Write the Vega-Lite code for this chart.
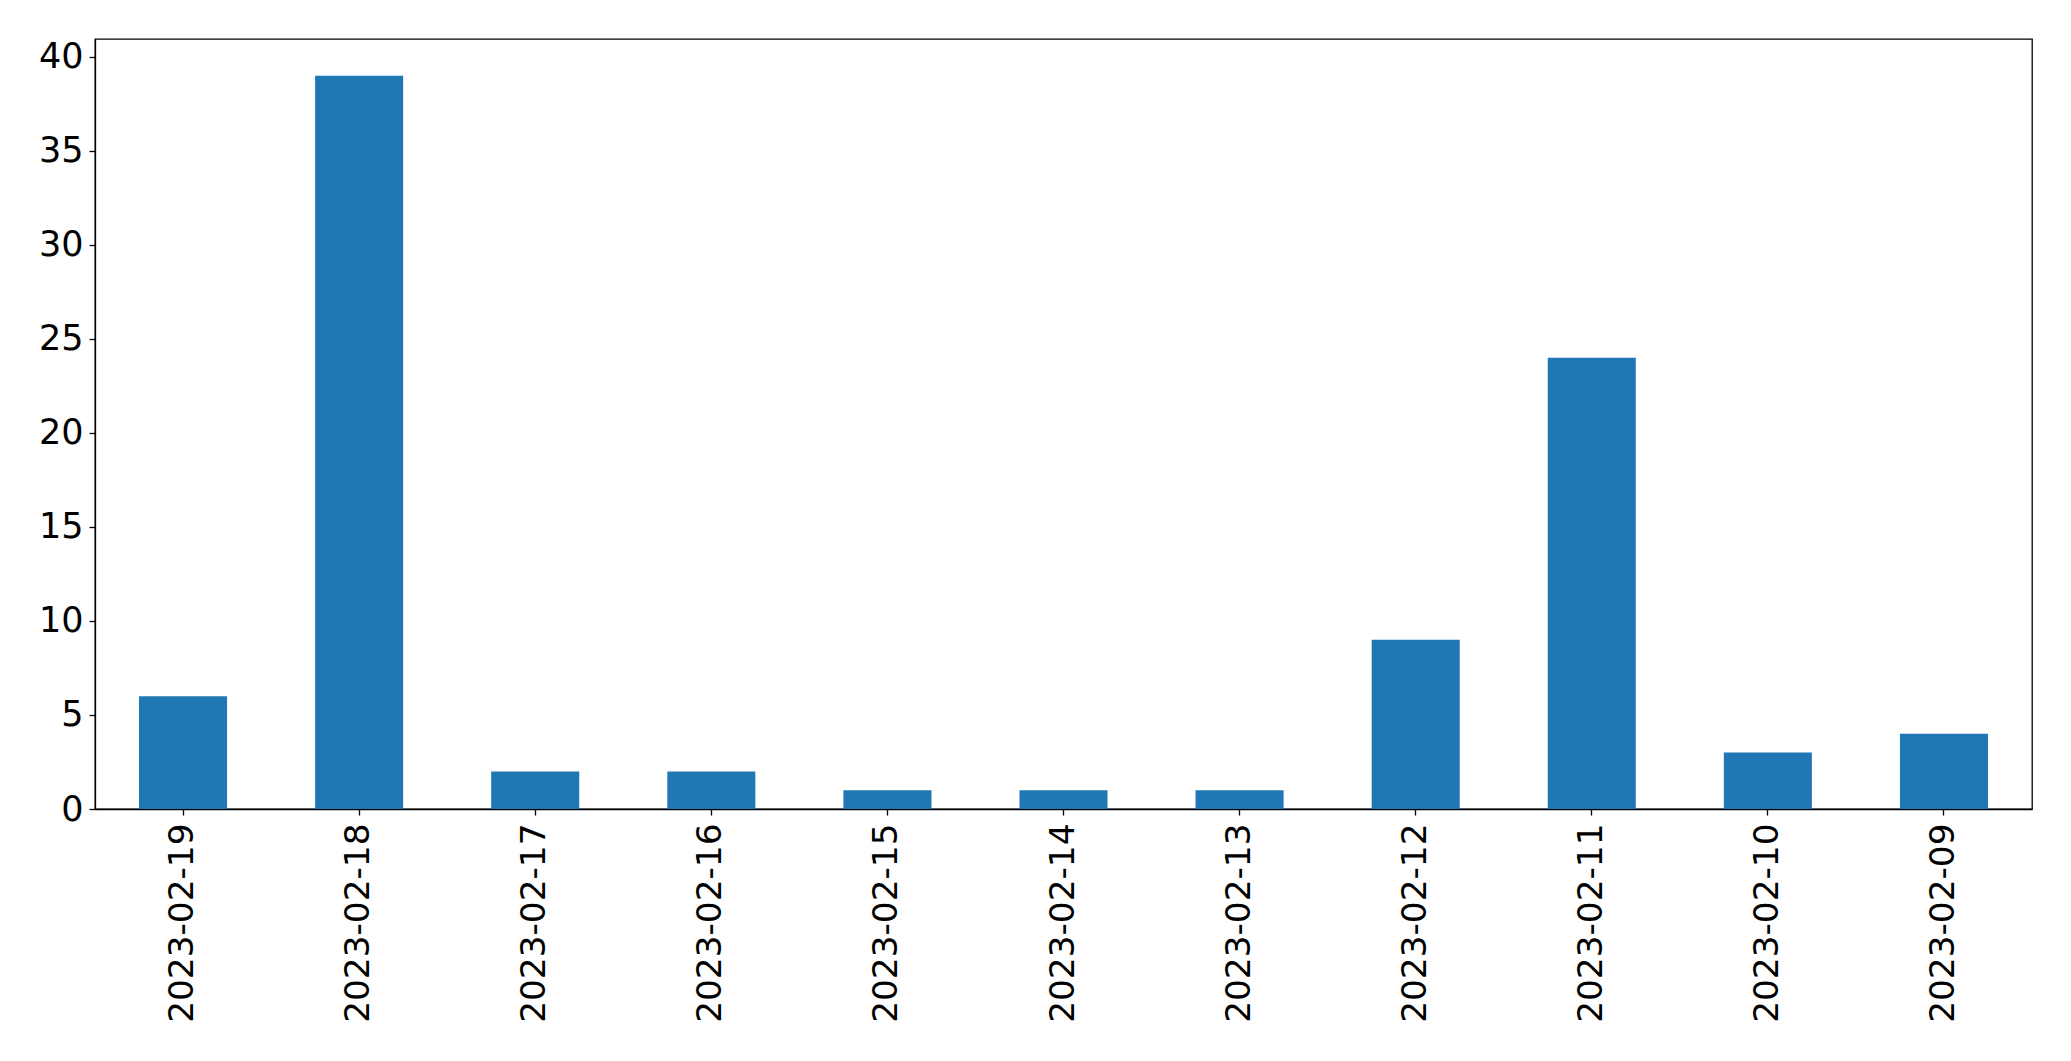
{
  "$schema": "https://vega.github.io/schema/vega-lite/v6.json",
  "autosize": {"type": "none"},
  "padding": {"left": 95, "top": 39, "right": 39, "bottom": 252},
  "width": 1937,
  "height": 770,
  "background": "white",
  "config": {
    "view": {"stroke": "black", "strokeWidth": 1.3},
    "axis": {
      "labelFont": "DejaVu Sans",
      "labelFontSize": 35,
      "labelColor": "black",
      "domainColor": "black",
      "domainWidth": 1.3,
      "tickColor": "black",
      "tickWidth": 1.3,
      "tickSize": 6,
      "grid": false,
      "title": null
    }
  },
  "data": {
    "values": [
      {"date": "2023-02-19", "count": 6},
      {"date": "2023-02-18", "count": 39},
      {"date": "2023-02-17", "count": 2},
      {"date": "2023-02-16", "count": 2},
      {"date": "2023-02-15", "count": 1},
      {"date": "2023-02-14", "count": 1},
      {"date": "2023-02-13", "count": 1},
      {"date": "2023-02-12", "count": 9},
      {"date": "2023-02-11", "count": 24},
      {"date": "2023-02-10", "count": 3},
      {"date": "2023-02-09", "count": 4}
    ]
  },
  "mark": {"type": "bar", "color": "#1f77b4"},
  "encoding": {
    "x": {
      "field": "date",
      "type": "nominal",
      "sort": null,
      "scale": {"paddingInner": 0.5, "paddingOuter": 0.25},
      "axis": {"labelAngle": 270, "labelPadding": 8, "labelFontSize": 34.3, "labelAlign": "right", "labelBaseline": "middle", "labelLimit": 0, "labelOverlap": false}
    },
    "y": {
      "field": "count",
      "type": "quantitative",
      "scale": {"domain": [0, 40.95], "nice": false, "zero": true},
      "axis": {"values": [0, 5, 10, 15, 20, 25, 30, 35, 40], "labelPadding": 6}
    }
  }
}
